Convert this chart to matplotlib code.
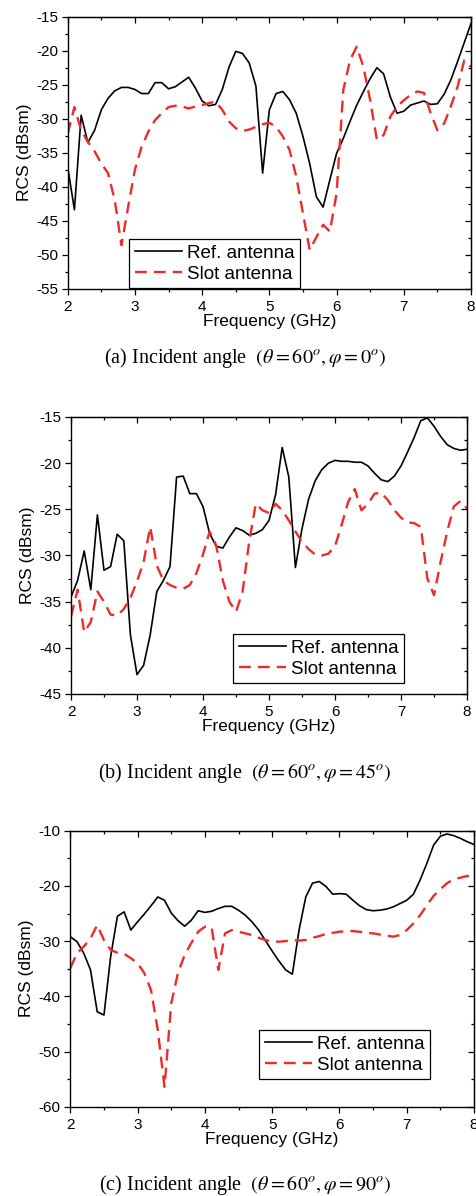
import matplotlib
matplotlib.use("Agg")
import matplotlib.pyplot as plt
from matplotlib.ticker import MultipleLocator

plt.rcParams['font.family'] = ['Liberation Sans', 'DejaVu Sans']
plt.rcParams['mathtext.fontset'] = 'stix'
plt.rcParams['axes.unicode_minus'] = False

freq = [2.0 + 0.1 * i for i in range(61)]

# (a) phi = 0
ref_a = [-37.1, -43.4, -29.5, -33.5, -31.7, -28.7, -27.0, -25.9, -25.4, -25.4,
         -25.7, -26.3, -26.3, -24.7, -24.7, -25.6, -25.3, -24.6, -23.9, -25.5,
         -27.4, -28.1, -27.9, -25.7, -22.4, -20.1, -20.4, -21.8, -25.2, -38.0,
         -28.7, -26.3, -26.0, -27.2, -29.2, -32.6, -36.6, -41.5, -43.0, -39.0,
         -35.1, -32.9, -30.4, -28.0, -26.0, -24.1, -22.5, -23.4, -26.8, -29.2,
         -28.9, -28.0, -27.7, -27.4, -27.9, -27.8, -26.4, -24.3, -21.6, -18.8,
         -16.0]
slot_a = [-32.2, -28.3, -31.7, -33.4, -34.8, -36.6, -38.0, -42.0, -48.6, -42.9,
          -37.5, -34.1, -31.9, -30.2, -29.2, -28.3, -28.1, -28.2, -28.5, -28.2,
          -28.0, -27.7, -27.5, -28.7, -30.4, -31.4, -31.8, -31.6, -31.2, -30.8,
          -30.6, -31.2, -32.6, -34.6, -38.5, -43.9, -49.3, -47.4, -45.6, -46.6,
          -41.0, -25.8, -21.4, -19.4, -22.4, -27.3, -33.1, -32.4, -29.7, -28.2,
          -27.3, -26.5, -26.0, -26.2, -29.2, -31.7, -30.7, -28.2, -25.3, -21.4,
          -22.4]

# (b) phi = 45
ref_b = [-34.5, -32.7, -29.5, -33.7, -25.6, -31.6, -31.2, -27.7, -28.4, -38.6,
         -42.9, -41.9, -38.6, -33.9, -32.7, -31.2, -21.5, -21.4, -23.3, -23.3,
         -24.7, -27.6, -29.0, -29.2, -28.0, -27.0, -27.3, -27.8, -27.6, -27.2,
         -26.2, -23.4, -18.3, -21.5, -31.3, -27.1, -23.9, -21.9, -20.7, -20.0,
         -19.7, -19.8, -19.8, -19.9, -19.9, -20.3, -21.1, -21.8, -22.0, -21.4,
         -20.3, -18.8, -17.2, -15.4, -15.1, -16.0, -17.1, -18.0, -18.4, -18.6,
         -18.5]
slot_b = [-36.6, -33.7, -38.3, -37.2, -33.9, -35.0, -36.4, -36.5, -35.8, -34.6,
          -32.8, -30.7, -26.9, -31.1, -32.7, -33.2, -33.5, -33.6, -33.2, -31.9,
          -29.9, -27.4, -28.9, -32.7, -35.0, -36.1, -33.9, -28.5, -24.4, -25.1,
          -25.4, -24.4, -25.1, -26.2, -27.4, -28.5, -29.3, -29.9, -30.0, -29.8,
          -29.0, -26.7, -24.2, -22.8, -25.1, -24.4, -23.3, -23.2, -24.0, -25.1,
          -25.9, -26.4, -26.5, -26.9, -32.5, -34.3, -30.7, -27.4, -24.7, -24.1,
          -24.9]

# (c) phi = 90
ref_c = [-29.2, -30.1, -32.2, -35.2, -42.8, -43.4, -32.8, -25.5, -24.7, -28.0,
         -26.5, -25.1, -23.6, -22.0, -22.6, -24.9, -26.3, -27.3, -26.2, -24.5,
         -24.8, -24.6, -24.1, -23.7, -23.7, -24.4, -25.3, -26.5, -28.0, -29.9,
         -31.8, -33.6, -35.2, -36.0, -28.0, -22.0, -19.5, -19.2, -20.1, -21.5,
         -21.4, -21.5, -22.6, -23.6, -24.3, -24.5, -24.4, -24.2, -23.8, -23.2,
         -22.6, -21.5, -18.9, -15.9, -12.6, -11.0, -10.6, -10.9, -11.4, -12.0,
         -12.5]
slot_c = [-34.9, -32.2, -31.0, -29.5, -27.1, -29.8, -31.6, -32.1, -32.3, -33.1,
          -34.0, -35.8, -38.9, -46.1, -56.4, -41.3, -35.8, -32.5, -30.3, -28.3,
          -27.4, -27.5, -35.2, -28.6, -28.0, -28.3, -28.6, -28.9, -29.4, -29.8,
          -30.1, -30.1, -30.0, -29.8, -29.9, -29.8, -29.4, -29.1, -28.7, -28.5,
          -28.3, -28.2, -28.2, -28.3, -28.5, -28.6, -28.8, -29.0, -29.2, -28.9,
          -28.0, -26.8, -25.3, -23.5, -21.8, -20.6, -19.5, -18.8, -18.5, -18.2,
          -18.2]

captions = [r'(a) Incident angle  $(\theta=60^o,\varphi=0^o)$',
            r'(b) Incident angle  $(\theta=60^o,\varphi=45^o)$',
            r'(c) Incident angle  $(\theta=60^o,\varphi=90^o)$']

W, H = 476, 1196
fig = plt.figure(figsize=(W / 100, H / 100), dpi=100)


def px_axes(left, right, top, bottom):
    return fig.add_axes([left / W, 1 - bottom / H, (right - left) / W, (bottom - top) / H])


panels = [
    # ref, slot, ylim, major, minor, axes px box, legend px (left, top), caption y
    (ref_a, slot_a, (-55, -15), 5, 2.5, (67.7, 471, 16.7, 288.7), (129, 239), 358),
    (ref_b, slot_b, (-45, -15), 5, 2.5, (71, 467, 417, 694), (233, 634), 773),
    (ref_c, slot_c, (-60, -10), 10, 5, (70.3, 474, 830.7, 1106.7), (259, 1030), 1185),
]

for (ref, slot, ylim, major, minor, box, leg, cap_y), cap in zip(panels, captions):
    ax = px_axes(*box)
    ax.plot(freq, ref, color='black', lw=1.2, label='Ref. antenna')
    ax.plot(freq, slot, color='#ee2b2b', lw=1.7, ls=(0, (5, 3)), label='Slot antenna')
    ax.set_xlim(2, 8)
    ax.set_ylim(*ylim)
    ax.xaxis.set_major_locator(MultipleLocator(1))
    ax.xaxis.set_minor_locator(MultipleLocator(0.5))
    ax.yaxis.set_major_locator(MultipleLocator(major))
    ax.yaxis.set_minor_locator(MultipleLocator(minor))
    ax.tick_params(which='both', direction='out', width=0.9)
    ax.tick_params(which='major', length=4.5, labelsize=11)
    ax.tick_params(which='minor', length=2.5)
    ax.tick_params(axis='x', pad=3.5)
    ax.tick_params(axis='y', pad=2.5)
    # inward ticks on the top and right frame
    top = ax.secondary_xaxis('top')
    top.xaxis.set_major_locator(MultipleLocator(1))
    top.xaxis.set_minor_locator(MultipleLocator(0.5))
    top.tick_params(which='both', direction='in', labeltop=False, width=0.9)
    top.tick_params(which='major', length=4.5)
    top.tick_params(which='minor', length=2.5)
    right = ax.secondary_yaxis('right')
    right.yaxis.set_major_locator(MultipleLocator(major))
    right.yaxis.set_minor_locator(MultipleLocator(minor))
    right.tick_params(which='both', direction='in', labelright=False, width=0.9)
    right.tick_params(which='major', length=4.5)
    right.tick_params(which='minor', length=2.5)
    for s in ax.spines.values():
        s.set_linewidth(1.0)
    ax.set_xlabel('Frequency (GHz)', fontsize=12.5, labelpad=0)
    ax.set_ylabel('RCS (dBsm)', fontsize=12.5, labelpad=3)
    lg = ax.legend(loc='upper left', bbox_to_anchor=(leg[0] / W, 1 - leg[1] / H),
                   bbox_transform=fig.transFigure, fontsize=13.5, frameon=True,
                   fancybox=False, edgecolor='black', framealpha=1,
                   handlelength=2.5, borderpad=0.3, labelspacing=0.2,
                   handletextpad=0.3, borderaxespad=0)
    lg.get_frame().set_linewidth(0.9)
    fig.text(245 / W, 1 - cap_y / H, cap, ha='center', va='center', fontsize=14.5,
             family=['Liberation Serif', 'DejaVu Serif'])

fig.savefig('out.png', dpi=100)
